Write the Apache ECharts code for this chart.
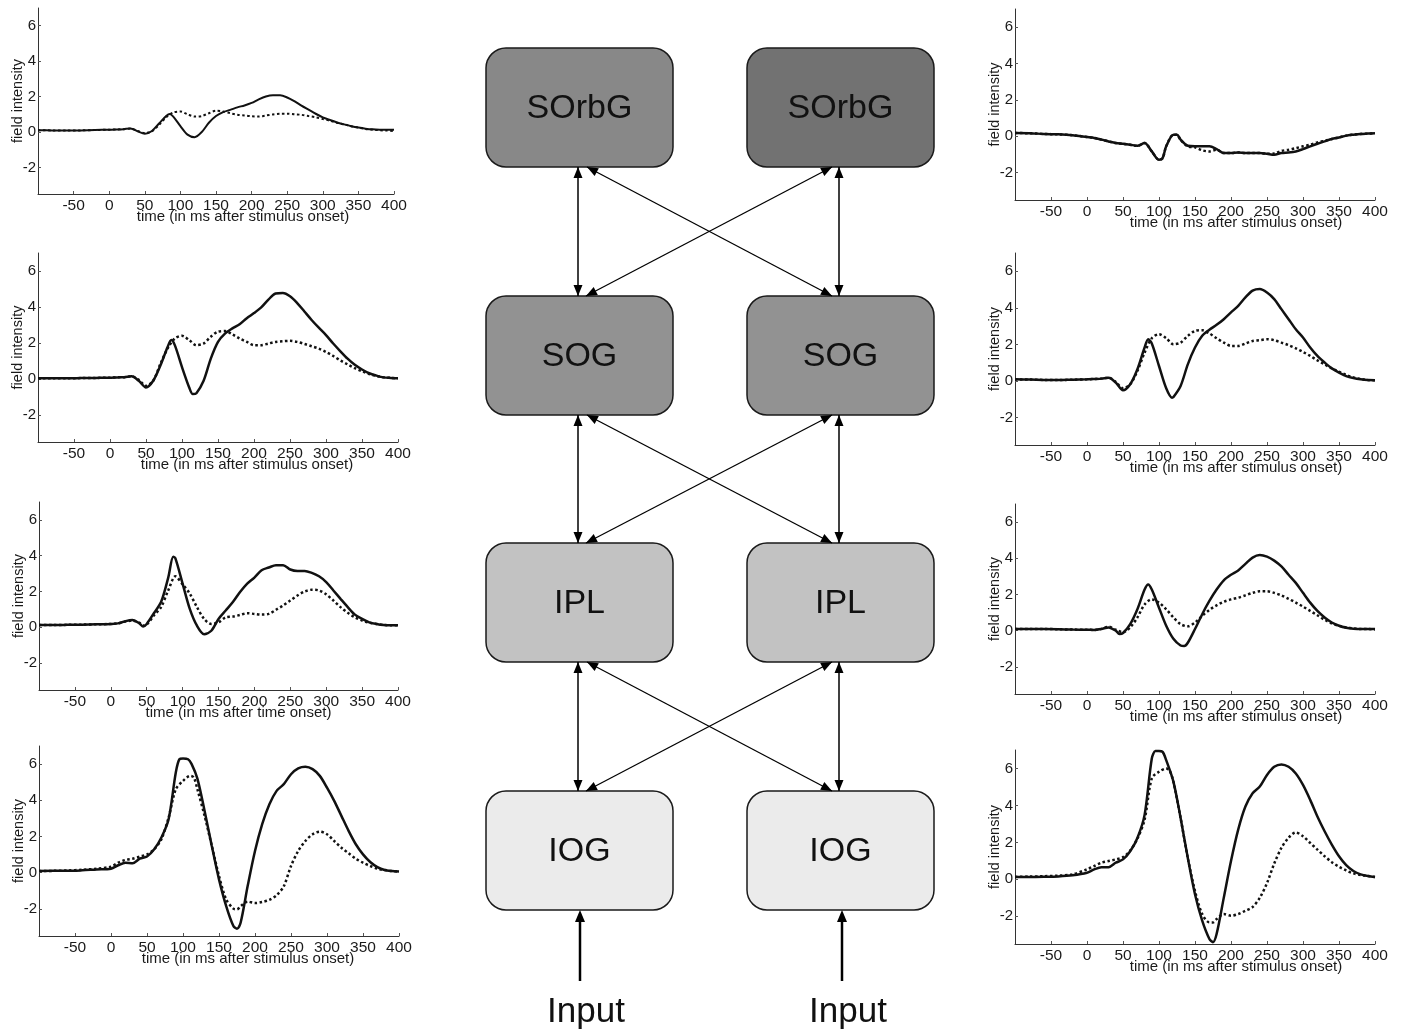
<!DOCTYPE html>
<html>
<head>
<meta charset="utf-8">
<script src="https://cdn.jsdelivr.net/npm/echarts@6/dist/echarts.min.js"></script>
<style>
html,body{margin:0;padding:0;background:#fff;}
#chart{width:1408px;height:1033px;}
</style>
</head>
<body>
<div id="chart"></div>
<script>
// ---------- DATA ----------
const xTicks = [-50, 0, 50, 100, 150, 200, 250, 300, 350, 400];
const yTicks = [-2, 0, 2, 4, 6];
const xTitleStim = 'time (in ms after stimulus onset)';
const xTitleTime = 'time (in ms after time onset)';
const yTitle = 'field intensity';
const nodeRows = ['SOrbG', 'SOG', 'IPL', 'IOG'];
const inputLabel = 'Input';

// left column, top to bottom  ([time ms, field intensity])
const p1Solid = [[-100,0.1],[-80,0.09],[-60,0.08],[-40,0.09],[-20,0.11],[0,0.13],[10,0.14],[20,0.16],[30,0.2],[40,0.04],[50,-0.1],[60,0.06],[70,0.48],[80,0.9],[85,1.02],[90,0.87],[100,0.33],[110,-0.15],[120,-0.29],[130,0],[140,0.52],[150,0.9],[160,1.12],[170,1.25],[180,1.39],[190,1.5],[200,1.64],[210,1.84],[220,2.0],[230,2.07],[240,2.07],[250,1.95],[260,1.74],[270,1.49],[280,1.26],[290,1.03],[300,0.83],[310,0.68],[320,0.54],[330,0.43],[340,0.33],[350,0.25],[360,0.19],[370,0.15],[380,0.13],[390,0.12],[400,0.12]];
const p1Dotted = [[-100,0.1],[-80,0.09],[-60,0.08],[-40,0.09],[-20,0.11],[0,0.13],[10,0.14],[20,0.16],[30,0.2],[40,0.06],[50,-0.06],[60,0.04],[70,0.4],[80,0.83],[90,1.1],[100,1.16],[110,1.0],[120,0.87],[130,0.9],[140,1.06],[150,1.2],[160,1.16],[170,1.06],[180,0.97],[190,0.93],[200,0.89],[210,0.87],[220,0.93],[230,0.99],[240,1.03],[250,1.03],[260,1.0],[270,0.97],[280,0.9],[290,0.83],[300,0.73],[310,0.64],[320,0.52],[330,0.43],[340,0.33],[350,0.25],[360,0.17],[370,0.13],[380,0.1],[390,0.08],[400,0.06]];
const p2Solid = [[-100,0.04],[-80,0.04],[-60,0.04],[-40,0.05],[-20,0.06],[0,0.07],[10,0.09],[20,0.1],[30,0.15],[40,-0.1],[50,-0.47],[60,-0.1],[70,0.75],[80,1.78],[85,2.16],[90,1.88],[100,0.66],[110,-0.47],[115,-0.84],[120,-0.79],[130,-0.1],[140,1.13],[150,2.06],[160,2.53],[170,2.81],[180,3.04],[190,3.38],[200,3.66],[210,3.98],[220,4.41],[230,4.75],[240,4.78],[250,4.6],[260,4.22],[270,3.75],[280,3.28],[290,2.85],[300,2.44],[310,1.97],[320,1.54],[330,1.13],[340,0.79],[350,0.53],[360,0.32],[370,0.19],[380,0.09],[390,0.06],[400,0.04]];
const p2Dotted = [[-100,0.04],[-80,0.04],[-60,0.04],[-40,0.05],[-20,0.06],[0,0.07],[10,0.09],[20,0.1],[30,0.15],[40,-0.05],[50,-0.38],[60,-0.1],[70,0.84],[80,1.69],[90,2.25],[100,2.4],[110,2.16],[120,1.88],[130,1.97],[140,2.35],[150,2.63],[160,2.66],[170,2.48],[180,2.25],[190,2.06],[200,1.88],[210,1.88],[220,1.97],[230,2.06],[240,2.1],[250,2.12],[260,2.06],[270,1.95],[280,1.82],[290,1.69],[300,1.5],[310,1.28],[320,1.03],[330,0.81],[340,0.6],[350,0.43],[360,0.28],[370,0.17],[380,0.09],[390,0.06],[400,0.04]];
const p3Solid = [[-100,0.13],[-80,0.13],[-60,0.14],[-40,0.15],[-20,0.17],[0,0.19],[10,0.22],[20,0.34],[30,0.41],[40,0.22],[45,0.04],[50,0.19],[60,0.79],[70,1.41],[80,2.78],[87,3.94],[90,3.85],[100,2.44],[110,1.03],[120,0.09],[130,-0.38],[140,-0.19],[150,0.47],[160,0.94],[170,1.41],[180,1.97],[190,2.44],[200,2.78],[210,3.19],[220,3.34],[230,3.47],[240,3.47],[250,3.23],[260,3.15],[270,3.15],[280,3.04],[290,2.85],[300,2.53],[310,2.06],[320,1.59],[330,1.13],[340,0.71],[350,0.47],[360,0.28],[370,0.19],[380,0.13],[390,0.11],[400,0.11]];
const p3Dotted = [[-100,0.13],[-80,0.13],[-60,0.14],[-40,0.15],[-20,0.17],[0,0.19],[10,0.22],[20,0.32],[30,0.38],[40,0.25],[45,0.1],[50,0.15],[60,0.66],[70,1.13],[80,2.06],[90,2.85],[100,2.4],[110,1.88],[120,1.13],[130,0.47],[140,0.19],[150,0.28],[160,0.56],[170,0.6],[180,0.69],[190,0.79],[200,0.75],[210,0.71],[220,0.75],[230,0.98],[240,1.22],[250,1.5],[260,1.78],[270,2.0],[280,2.1],[290,2.06],[300,1.84],[310,1.5],[320,1.13],[330,0.81],[340,0.56],[350,0.38],[360,0.26],[370,0.19],[380,0.13],[390,0.11],[400,0.11]];
const p4Solid = [[-100,0.09],[-80,0.1],[-60,0.1],[-40,0.13],[-20,0.18],[0,0.22],[10,0.41],[20,0.55],[30,0.52],[40,0.77],[50,0.89],[60,1.29],[70,1.94],[80,2.95],[90,5.54],[95,6.27],[100,6.31],[107,6.27],[112,6.0],[120,5.2],[130,3.41],[140,1.48],[150,-0.37],[160,-1.85],[170,-2.95],[175,-3.1],[180,-2.77],[190,-0.7],[200,1.2],[210,2.68],[220,3.78],[230,4.52],[240,4.89],[250,5.44],[260,5.76],[270,5.85],[280,5.72],[290,5.35],[300,4.7],[310,3.97],[320,3.14],[330,2.31],[340,1.57],[350,1.01],[360,0.59],[370,0.31],[380,0.15],[390,0.09],[400,0.06]];
const p4Dotted = [[-100,0.09],[-80,0.1],[-60,0.12],[-40,0.16],[-20,0.22],[0,0.33],[10,0.55],[20,0.7],[30,0.77],[40,0.89],[50,1.01],[60,1.29],[70,1.85],[80,3.04],[90,4.61],[100,5.07],[110,5.35],[115,5.26],[120,4.61],[130,3.14],[140,1.48],[150,-0.18],[160,-1.48],[170,-1.99],[175,-2.03],[180,-1.85],[190,-1.6],[200,-1.68],[210,-1.62],[220,-1.5],[230,-1.25],[240,-0.75],[250,0.37],[260,1.2],[270,1.75],[280,2.12],[290,2.27],[300,2.12],[310,1.75],[320,1.38],[330,1.07],[340,0.77],[350,0.55],[360,0.37],[370,0.22],[380,0.15],[390,0.09],[400,0.06]];

// right column, top to bottom
const p5Solid = [[-100,0.18],[-80,0.17],[-60,0.13],[-40,0.11],[-20,0.06],[0,-0.04],[10,-0.09],[20,-0.18],[30,-0.28],[40,-0.37],[50,-0.41],[60,-0.46],[70,-0.52],[80,-0.37],[90,-0.83],[100,-1.29],[105,-1.2],[110,-0.55],[120,0.09],[125,0.09],[130,-0.18],[140,-0.52],[150,-0.55],[160,-0.55],[170,-0.55],[180,-0.7],[190,-0.92],[200,-0.92],[210,-0.89],[220,-0.92],[230,-0.92],[240,-0.92],[250,-0.96],[260,-1.01],[270,-0.92],[280,-0.89],[290,-0.83],[300,-0.7],[310,-0.55],[320,-0.41],[330,-0.28],[340,-0.15],[350,-0.06],[360,0.04],[370,0.09],[380,0.13],[390,0.15],[400,0.17]];
const p5Dotted = [[-100,0.18],[-80,0.17],[-60,0.13],[-40,0.11],[-20,0.06],[0,-0.04],[10,-0.09],[20,-0.18],[30,-0.28],[40,-0.37],[50,-0.41],[60,-0.46],[70,-0.52],[80,-0.37],[90,-0.83],[100,-1.29],[105,-1.2],[110,-0.55],[120,0.09],[125,0.09],[130,-0.2],[140,-0.55],[150,-0.6],[160,-0.77],[170,-0.83],[180,-0.74],[190,-0.92],[200,-0.92],[210,-0.89],[220,-0.92],[230,-0.92],[240,-0.92],[250,-0.96],[260,-0.95],[270,-0.8],[280,-0.74],[290,-0.65],[300,-0.55],[310,-0.46],[320,-0.33],[330,-0.25],[340,-0.15],[350,-0.06],[360,0.04],[370,0.09],[380,0.13],[390,0.15],[400,0.17]];
const p6Solid = [[-100,0.09],[-80,0.08],[-60,0.06],[-40,0.05],[-20,0.07],[0,0.09],[10,0.11],[20,0.13],[30,0.18],[40,-0.09],[50,-0.51],[60,-0.18],[70,0.64],[80,1.83],[85,2.29],[90,2.05],[100,0.82],[110,-0.4],[118,-0.91],[120,-0.88],[130,-0.27],[140,0.91],[150,1.83],[160,2.47],[170,2.8],[180,3.07],[190,3.38],[200,3.75],[210,4.11],[220,4.57],[230,4.94],[240,5.03],[250,4.84],[260,4.48],[270,3.93],[280,3.38],[290,2.83],[300,2.38],[310,1.83],[320,1.37],[330,1.01],[340,0.69],[350,0.46],[360,0.27],[370,0.16],[380,0.09],[390,0.05],[400,0.04]];
const p6Dotted = [[-100,0.09],[-80,0.08],[-60,0.06],[-40,0.05],[-20,0.07],[0,0.09],[10,0.11],[20,0.13],[30,0.18],[40,-0.05],[50,-0.4],[60,-0.18],[70,0.55],[80,1.55],[90,2.34],[100,2.56],[110,2.34],[120,2.01],[130,2.1],[140,2.47],[150,2.74],[160,2.78],[170,2.6],[180,2.34],[190,2.1],[200,1.92],[210,1.92],[220,2.05],[230,2.19],[240,2.23],[250,2.29],[260,2.23],[270,2.1],[280,1.96],[290,1.79],[300,1.59],[310,1.37],[320,1.13],[330,0.91],[340,0.69],[350,0.51],[360,0.33],[370,0.2],[380,0.11],[390,0.05],[400,0.04]];
const p7Solid = [[-100,0.09],[-80,0.09],[-60,0.09],[-40,0.08],[-20,0.06],[0,0.05],[10,0.04],[20,0.09],[30,0.18],[40,0],[45,-0.18],[50,-0.13],[60,0.36],[70,1.18],[80,2.27],[85,2.55],[90,2.27],[100,1.27],[110,0.27],[120,-0.45],[130,-0.82],[135,-0.85],[140,-0.67],[150,0.09],[160,0.91],[170,1.64],[180,2.27],[190,2.78],[200,3.09],[210,3.33],[220,3.69],[230,4.04],[240,4.18],[250,4.09],[260,3.87],[270,3.55],[280,3.09],[290,2.64],[300,2.09],[310,1.55],[320,1.09],[330,0.73],[340,0.45],[350,0.27],[360,0.16],[370,0.11],[380,0.09],[390,0.09],[400,0.09]];
const p7Dotted = [[-100,0.09],[-80,0.09],[-60,0.09],[-40,0.08],[-20,0.06],[0,0.05],[10,0.04],[20,0.1],[30,0.22],[40,0.05],[50,-0.09],[60,0.18],[70,0.73],[80,1.45],[90,1.73],[100,1.55],[110,1.18],[120,0.73],[130,0.36],[140,0.24],[150,0.45],[160,0.82],[170,1.15],[180,1.4],[190,1.6],[200,1.73],[210,1.82],[220,1.95],[230,2.09],[240,2.18],[250,2.18],[260,2.09],[270,1.95],[280,1.76],[290,1.55],[300,1.33],[310,1.09],[320,0.85],[330,0.6],[340,0.4],[350,0.27],[360,0.18],[370,0.13],[380,0.09],[390,0.09],[400,0.07]];
const p8Solid = [[-100,0.13],[-80,0.13],[-60,0.14],[-40,0.16],[-20,0.22],[0,0.36],[10,0.54],[20,0.66],[30,0.66],[40,0.9],[50,1.08],[60,1.52],[70,2.24],[80,3.49],[90,6.54],[95,6.94],[100,6.94],[105,6.9],[110,6.45],[120,5.29],[130,3.32],[140,1.16],[150,-0.81],[160,-2.24],[170,-3.23],[175,-3.4],[180,-2.96],[190,-0.99],[200,0.99],[210,2.69],[220,3.94],[230,4.66],[240,5.02],[250,5.65],[260,6.09],[270,6.22],[280,6.09],[290,5.73],[300,5.11],[310,4.3],[320,3.4],[330,2.6],[340,1.88],[350,1.25],[360,0.77],[370,0.45],[380,0.27],[390,0.18],[400,0.13]];
const p8Dotted = [[-100,0.13],[-80,0.15],[-60,0.17],[-40,0.2],[-20,0.27],[0,0.54],[10,0.72],[20,0.9],[30,0.99],[40,1.08],[50,1.2],[60,1.56],[70,2.2],[80,3.23],[90,5.47],[100,5.82],[110,6.0],[115,5.86],[120,5.29],[130,3.32],[140,1.16],[150,-0.63],[160,-1.88],[170,-2.33],[175,-2.33],[180,-2.15],[190,-1.88],[200,-1.97],[210,-1.88],[220,-1.7],[230,-1.5],[240,-1.0],[250,-0.2],[260,0.85],[270,1.7],[280,2.25],[290,2.54],[300,2.33],[310,1.97],[320,1.61],[330,1.25],[340,0.93],[350,0.68],[360,0.48],[370,0.32],[380,0.23],[390,0.18],[400,0.13]];

// ---------- LAYOUT ----------
const FONT = '"Liberation Sans", Arial, Helvetica, sans-serif';
const panels = [
  {s: p1Solid, d: p1Dotted, g: {left: 38, top: 8, width: 356, height: 186}, xt: xTitleStim, shift: 27, lw: 2},
  {s: p2Solid, d: p2Dotted, g: {left: 38, top: 253, width: 360, height: 189}, xt: xTitleStim, shift: 29, lw: 2.5},
  {s: p3Solid, d: p3Dotted, g: {left: 39, top: 502, width: 359, height: 188}, xt: xTitleTime, shift: 20, lw: 2.5},
  {s: p4Solid, d: p4Dotted, g: {left: 39, top: 746, width: 360, height: 190}, xt: xTitleStim, shift: 29, lw: 2.5},
  {s: p5Solid, d: p5Dotted, g: {left: 1015, top: 9, width: 360, height: 191}, xt: xTitleStim, shift: 41, lw: 2.5},
  {s: p6Solid, d: p6Dotted, g: {left: 1015, top: 253, width: 360, height: 192}, xt: xTitleStim, shift: 41, lw: 2.5},
  {s: p7Solid, d: p7Dotted, g: {left: 1015, top: 504, width: 360, height: 190}, xt: xTitleStim, shift: 41, lw: 2.5},
  {s: p8Solid, d: p8Dotted, g: {left: 1015, top: 750, width: 360, height: 194}, xt: xTitleStim, shift: 41, lw: 2.5}
];

const grid = [], xAxis = [], yAxis = [], series = [];
panels.forEach((p, i) => {
  grid.push(Object.assign({containLabel: false}, p.g));
  xAxis.push({
    type: 'value', gridIndex: i, min: -100, max: 400,
    axisLine: {show: true, onZero: false, lineStyle: {color: '#333', width: 1}},
    axisTick: {show: true, inside: true, length: 3, customValues: xTicks, lineStyle: {color: '#555'}},
    splitLine: {show: false},
    axisLabel: {customValues: xTicks, fontSize: 15.5, color: '#1a1a1a', margin: 4, fontFamily: FONT},
    name: p.xt, nameLocation: 'middle', nameGap: 15, nameMoveOverlap: false,
    nameTextStyle: {fontSize: 15, color: '#1a1a1a', fontFamily: FONT, padding: [0, 0, 0, 2 * p.shift]}
  });
  yAxis.push({
    type: 'value', gridIndex: i, min: -3.5, max: 7,
    axisLine: {show: true, onZero: false, lineStyle: {color: '#333', width: 1}},
    axisTick: {show: true, inside: true, length: 3, customValues: yTicks, lineStyle: {color: '#555'}},
    splitLine: {show: false},
    axisLabel: {customValues: yTicks, fontSize: 15, color: '#1a1a1a', margin: 2, fontFamily: FONT},
    name: yTitle, nameLocation: 'middle', nameRotate: 90, nameGap: 13, nameMoveOverlap: false,
    nameTextStyle: {fontSize: 14.5, color: '#1a1a1a', fontFamily: FONT}
  });
  series.push({
    type: 'line', xAxisIndex: i, yAxisIndex: i, data: p.d, showSymbol: false, smooth: 0.3,
    lineStyle: {color: '#111', width: p.lw, type: [2.5, 2.5]}, z: 2
  });
  series.push({
    type: 'line', xAxisIndex: i, yAxisIndex: i, data: p.s, showSymbol: false, smooth: 0.3,
    lineStyle: {color: '#111', width: p.lw, type: 'solid'}, z: 3
  });
});

// ---------- DIAGRAM ----------
const boxW = 187, boxH = 119;
const colX = [486, 747];
const rowY = [48, 296, 543, 791];
const boxFill = [['#888888', '#727272'], ['#929292', '#929292'], ['#c2c2c2', '#c2c2c2'], ['#ebebeb', '#ebebeb']];
const graphic = [];

function head(tx, ty, fx, fy, len, half) {
  const dx = tx - fx, dy = ty - fy, L = Math.hypot(dx, dy);
  const ux = dx / L, uy = dy / L;
  const bx = tx - ux * len, by = ty - uy * len;
  return {type: 'polygon', z: 10,
    shape: {points: [[tx, ty], [bx - uy * half, by + ux * half], [bx + uy * half, by - ux * half]]},
    style: {fill: '#000'}};
}
function dblArrow(x1, y1, x2, y2, w) {
  graphic.push({type: 'line', z: 9, shape: {x1: x1, y1: y1, x2: x2, y2: y2}, style: {stroke: '#000', lineWidth: w}});
  graphic.push(head(x1, y1, x2, y2, 11, 4.5));
  graphic.push(head(x2, y2, x1, y1, 11, 4.5));
}

nodeRows.forEach((name, r) => {
  colX.forEach((x, c) => {
    graphic.push({type: 'rect', z: 5, shape: {x: x, y: rowY[r], width: boxW, height: boxH, r: 20},
      style: {fill: boxFill[r][c], stroke: '#1a1a1a', lineWidth: 1.5}});
    graphic.push({type: 'text', z: 6, x: x + boxW / 2, y: rowY[r] + boxH / 2 + 1,
      style: {text: name, fill: '#111', font: '34px ' + FONT, align: 'center', verticalAlign: 'middle'}});
  });
});
for (let r = 0; r < 3; r++) {
  const yb = rowY[r] + boxH, yt = rowY[r + 1];
  dblArrow(578, yb, 578, yt, 1.5);
  dblArrow(839, yb, 839, yt, 1.5);
  dblArrow(587, yb, 832, yt, 1.3);
  dblArrow(832, yb, 586, yt, 1.3);
}
[580, 842].forEach((xx) => {
  graphic.push({type: 'line', z: 9, shape: {x1: xx, y1: 981, x2: xx, y2: 918}, style: {stroke: '#000', lineWidth: 2.5}});
  graphic.push(head(xx, 910, xx, 981, 12, 5));
});
graphic.push({type: 'text', z: 6, x: 586, y: 1012, style: {text: inputLabel, fill: '#111', font: '35px ' + FONT, align: 'center', verticalAlign: 'middle'}});
graphic.push({type: 'text', z: 6, x: 848, y: 1012, style: {text: inputLabel, fill: '#111', font: '35px ' + FONT, align: 'center', verticalAlign: 'middle'}});

const chart = echarts.init(document.getElementById('chart'), null, {renderer: 'canvas'});
chart.setOption({
  backgroundColor: '#ffffff',
  animation: false,
  grid: grid, xAxis: xAxis, yAxis: yAxis, series: series,
  graphic: graphic
});
</script>
</body>
</html>
